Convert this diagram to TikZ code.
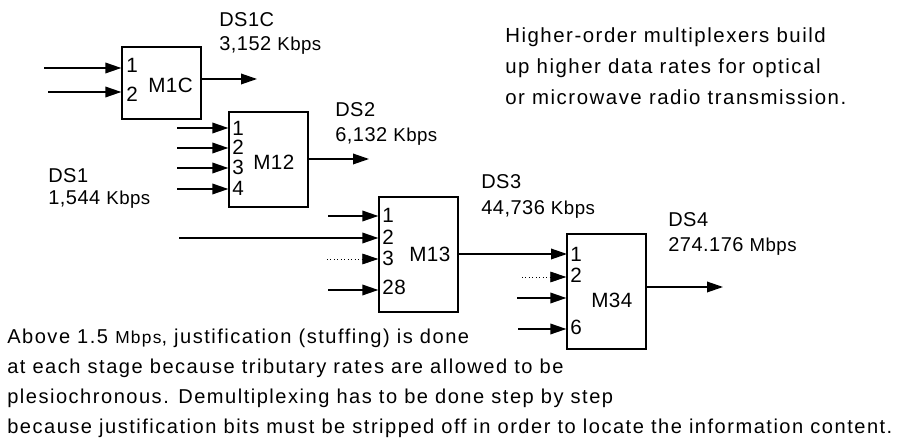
\documentclass[tikz,border=0pt]{standalone}
\usepackage{fontspec}
\setmainfont{Liberation Sans}[LetterSpace=2.5]
\newfontfamily\widefont[LetterSpace=7.5]{Liberation Sans}
\usetikzlibrary{calc}
\usetikzlibrary{arrows.meta}

\begin{document}
\begin{tikzpicture}[x=0.75pt,y=-0.75pt,inner sep=0pt,
  mux/.style={draw,line width=1pt,minimum width=79*0.75pt,minimum height=#1*0.75pt},
  arr/.style={line width=1pt,-{Triangle[length=12pt,width=8pt]}},
  dotarr/.style={line width=0.6pt,dotted,-{Triangle[length=12pt,width=8pt]}},
  lbl/.style={anchor=base west,font=\fontsize{15}{18}\selectfont},
  port/.style={anchor=base west,font=\fontsize{15.5}{17}\selectfont}]
\useasboundingbox (0,0) rectangle (904,441);
\def\kb{{\fontsize{14}{16}\selectfont Kbps}}

% multiplexers
\node[mux=72] (m1c) at (161.5, 83) {};
\node[mux=95] (m12) at (268.5, 159.5) {};
\node[mux=115] (m13) at (418.5, 254.5) {};
\node[mux=115] (m34) at (606.5, 291.5) {};
\node[port] (n1c) at (148, 93) {M1C};
\node[port] (n12) at (253, 170) {M12};
\node[port] (n13) at (409, 262) {M13};
\node[port] (n34) at (591, 308) {M34};

% port numbers
\node[port] (p1c1) at (126, 73) {1};
\node[port] (p1c2) at (126, 102) {2};
\foreach \i/\y in {1/136,2/155,3/175,4/196}
  \node[port] (p12\i) at (232, \y) {\i};
\node[port] (p131) at (382, 223) {1};
\node[port] (p132) at (382, 245) {2};
\node[port] (p133) at (382, 266) {3};
\node[port] (p1328) at (382, 295) {28};
\node[port] (p341) at (570, 262) {1};
\node[port] (p342) at (570, 283) {2};
\node[port] (p346) at (570, 335) {6};

% rate labels
\node[lbl] (ds1c) at (219, 27) {DS1C};
\node[lbl] (r1c) at (219, 51) {3,152 \kb};
\node[lbl] (ds2) at (335, 117) {DS2};
\node[lbl] (r2) at (335, 142) {6,132 \kb};
\node[lbl] (ds1) at (48, 183) {DS1};
\node[lbl] (r1) at (48, 205) {1,544 \kb};
\node[lbl] (ds3) at (481, 189) {DS3};
\node[lbl] (r3) at (481, 215) {44,736 \kb};
\node[lbl] (ds4) at (668, 227) {DS4};
\node[lbl] (r4) at (668, 252) {274.176 {\fontsize{14}{16}\selectfont Mbps}};

% inputs
\coordinate (a1) at (44, 68);
\coordinate (a2) at (48, 92);
\foreach \c in {a1,a2} \draw[arr] (\c) -- (\c -| m1c.west);
\foreach \i/\y in {1/128,2/148,3/168,4/189} {
  \coordinate (b\i) at (177, \y);
  \draw[arr] (b\i) -- (b\i -| m12.west);
}
\coordinate (c1) at (328, 216);
\coordinate (c2) at (179, 238);
\coordinate (c3) at (327, 259);
\coordinate (c28) at (328, 290);
\foreach \c in {c1,c2,c28} \draw[arr] (\c) -- (\c -| m13.west);
\draw[dotarr] (c3) -- (c3 -| m13.west);
\coordinate (d1) at (567, 254);
\coordinate (d2) at (522, 277);
\coordinate (d3) at (517, 298);
\coordinate (d6) at (518, 329);
\draw[arr] (d1 -| m13.east) -- (d1);
\draw[dotarr] (d2) -- (d2 -| m34.west);
\foreach \c in {d3,d6} \draw[arr] (\c) -- (\c -| m34.west);

% outputs
\coordinate (o1) at (257, 79);
\coordinate (o2) at (369, 159);
\coordinate (o4) at (723, 287);
\draw[arr] (o1 -| m1c.east) -- (o1);
\draw[arr] (o2 -| m12.east) -- (o2);
\draw[arr] (o4 -| m34.east) -- (o4);

% notes
\node[anchor=base west,align=left,font=\widefont\fontsize{15.3}{23.5}\selectfont] (info) at (505, 105)
  {Higher-order multiplexers build\\up higher data rates for optical\\or microwave radio transmission.};
\node[anchor=base west,align=left,font=\widefont\fontsize{15.05}{22.5}\selectfont] (note) at (7, 434)
  {Above 1.5 {\fontsize{13}{15}\selectfont Mbps}, justification (stuffing) is done\\
   at each stage because tributary rates are allowed to be\\
   plesiochronous. Demultiplexing has to be done step by step\\
   because justification bits must be stripped off in order to locate the information content.};
\end{tikzpicture}
\end{document}
